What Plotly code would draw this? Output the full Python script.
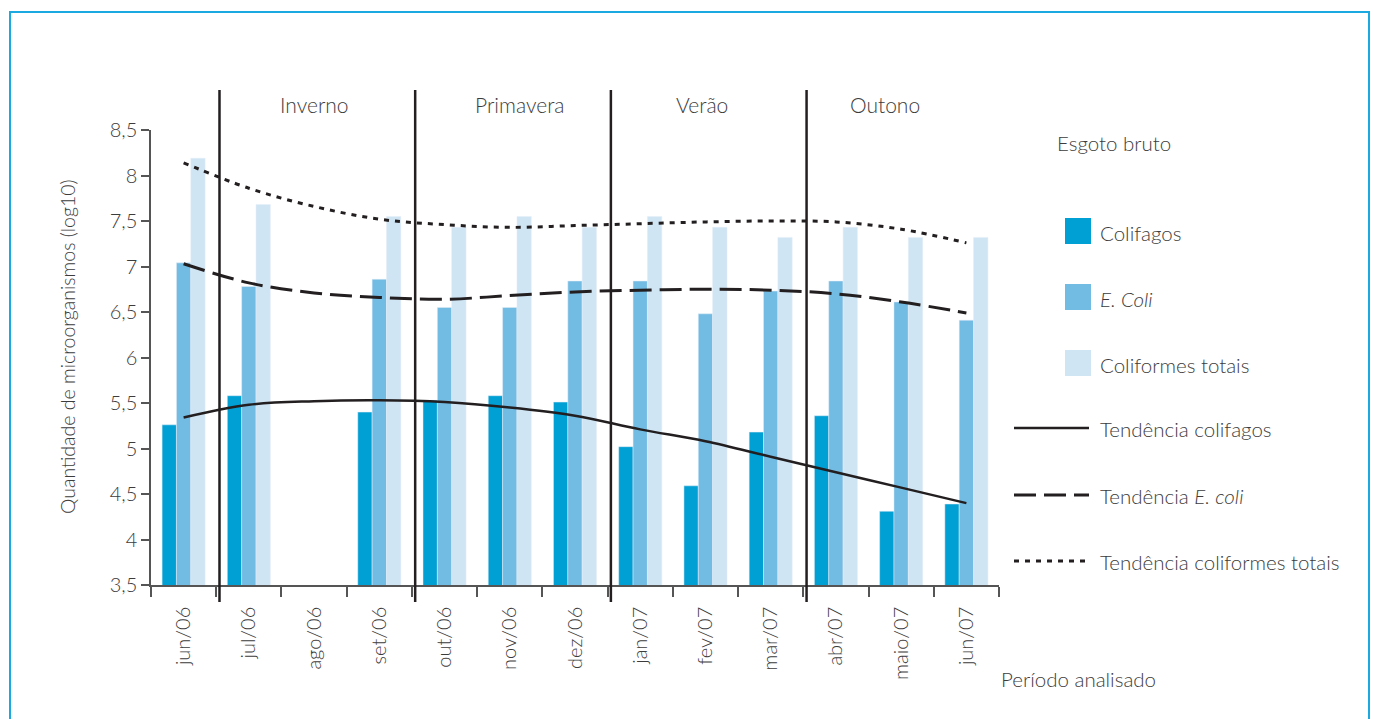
import plotly.graph_objects as go

months = ["jun/06", "jul/06", "ago/06", "set/06", "out/06", "nov/06", "dez/06",
          "jan/07", "fev/07", "mar/07", "abr/07", "maio/07", "jun/07"]
colifagos = [5.26, 5.58, None, 5.40, 5.53, 5.58, 5.51, 5.02, 4.59, 5.18, 5.36, 4.31, 4.39]
e_coli = [7.04, 6.78, None, 6.86, 6.55, 6.55, 6.84, 6.84, 6.48, 6.73, 6.84, 6.61, 6.41]
coliformes = [8.19, 7.68, None, 7.55, 7.43, 7.55, 7.43, 7.55, 7.43, 7.32, 7.43, 7.32, 7.32]

trend_colifagos = [5.34, 5.48, 5.52, 5.53, 5.51, 5.45, 5.36, 5.21, 5.08, 4.91, 4.74, 4.57, 4.40]
trend_e_coli = [7.03, 6.82, 6.71, 6.66, 6.64, 6.68, 6.72, 6.74, 6.75, 6.74, 6.70, 6.61, 6.49]
trend_coliformes = [8.14, 7.86, 7.66, 7.52, 7.46, 7.43, 7.45, 7.47, 7.49, 7.50, 7.49, 7.41, 7.26]

seasons = ["Inverno", "Primavera", "Verão", "Outono"]
season_bounds = [0.55, 3.55, 6.55, 9.55]
season_centers = [2.0, 5.15, 7.95, 10.75]

y_ticks = [3.5, 4, 4.5, 5, 5.5, 6, 6.5, 7, 7.5, 8, 8.5]
y_ticktext = ["3,5", "4", "4,5", "5", "5,5", "6", "6,5", "7", "7,5", "8", "8,5"]

C1, C2, C3 = "#009fd4", "#72bbe3", "#cfe5f4"
INK = "#231f20"
TXT = "#3c3c3c"
FONT = "Lato"
WEIGHT = 300

W, H = 1373, 719
L, R, T, B = 151, 999, 130, 585


def px(x):
    return (x - L) / (R - L)


def py(y):
    return (B - y) / (B - T)


def tf(size=20):
    return dict(size=size, color=TXT, family=FONT, weight=WEIGHT)


fig = go.Figure()
fig.add_bar(x=months, y=colifagos, marker_color=C1, name="Colifagos")
fig.add_bar(x=months, y=e_coli, marker_color=C2, name="E. Coli")
fig.add_bar(x=months, y=coliformes, marker_color=C3, name="Coliformes totais")

fig.add_scatter(x=months, y=trend_colifagos, mode="lines",
                line=dict(color=INK, width=2.5, shape="spline"))
fig.add_scatter(x=months, y=trend_e_coli, mode="lines",
                line=dict(color=INK, width=3, shape="spline", dash="22px,8px"))
fig.add_scatter(x=months, y=trend_coliformes, mode="lines",
                line=dict(color=INK, width=3, shape="spline", dash="5px,6px"))

shapes = []
annotations = []

# frame
shapes.append(dict(type="rect", xref="paper", yref="paper",
                   x0=px(10), x1=px(1369), y0=py(740), y1=py(12),
                   line=dict(color="#1ba9e1", width=2), layer="below"))

# season dividers
for b in season_bounds:
    shapes.append(dict(type="line", xref="x", yref="paper", x0=b, x1=b,
                       y0=py(602), y1=py(90), line=dict(color=INK, width=2.5)))
for s, c in zip(seasons, season_centers):
    annotations.append(dict(x=c, xref="x", y=py(104), yref="paper", text=s,
                            xanchor="center", yanchor="middle",
                            showarrow=False, font=tf(21)))

# axis titles
annotations.append(dict(x=px(67), y=py(347), xref="paper", yref="paper",
                        text="Quantidade de microorganismos (log10)", textangle=-90,
                        xanchor="center", yanchor="middle",
                        showarrow=False, font=tf(19.5)))
annotations.append(dict(x=px(999), y=py(679), xref="paper", yref="paper",
                        text="Período analisado", xanchor="left", yanchor="middle",
                        showarrow=False, font=tf(20.5)))

# legend
annotations.append(dict(x=px(1055), y=py(143), xref="paper", yref="paper",
                        text="Esgoto bruto", xanchor="left", yanchor="middle",
                        showarrow=False, font=tf(20.5)))
leg_boxes = [(C1, "Colifagos", 231), (C2, "<i>E. Coli</i>", 297), (C3, "Coliformes totais", 363)]
for col, txt, yc in leg_boxes:
    shapes.append(dict(type="rect", xref="paper", yref="paper",
                       x0=px(1065), x1=px(1091), y0=py(yc + 13), y1=py(yc - 13),
                       fillcolor=col, line=dict(width=0)))
    annotations.append(dict(x=px(1098), y=py(yc + 2), xref="paper", yref="paper",
                            text=txt, xanchor="left", yanchor="middle", showarrow=False,
                            font=tf(20.5)))
leg_lines = [("solid", "Tendência colifagos", 428, 2.5),
             ("22px,8px", "Tendência <i>E. coli</i>", 495, 3),
             ("5px,6px", "Tendência coliformes totais", 561, 3)]
for dash, txt, yc, w in leg_lines:
    shapes.append(dict(type="line", xref="paper", yref="paper",
                       x0=px(1014), x1=px(1089), y0=py(yc), y1=py(yc),
                       line=dict(color=INK, width=w, dash=dash)))
    annotations.append(dict(x=px(1098), y=py(yc + 1), xref="paper", yref="paper",
                            text=txt, xanchor="left", yanchor="middle", showarrow=False,
                            font=tf(20.5)))

fig.update_layout(
    width=W, height=H,
    margin=dict(l=L, r=W - R, t=T, b=H - B, pad=0),
    paper_bgcolor="white", plot_bgcolor="white",
    barmode="group", bargap=0.34, bargroupgap=0,
    showlegend=False,
    font=dict(family=FONT, color=TXT, size=19, weight=WEIGHT),
    shapes=shapes, annotations=annotations,
)
fig.update_xaxes(type="category", showline=True, linecolor="#555", linewidth=1.5,
                 ticks="outside", ticklen=10, tickcolor="#555", tickwidth=1.5,
                 tickson="boundaries", tickangle=-90, showgrid=False,
                 ticklabelstandoff=12,
                 tickfont=tf(20))
fig.update_yaxes(range=[3.5, 8.5], tickvals=y_ticks, ticktext=y_ticktext,
                 showline=True, linecolor="#555", linewidth=1.5,
                 ticks="outside", ticklen=8, tickcolor="#555", tickwidth=1.5,
                 showgrid=False, zeroline=False,
                 tickfont=tf(20))

fig.write_html("out.html")
